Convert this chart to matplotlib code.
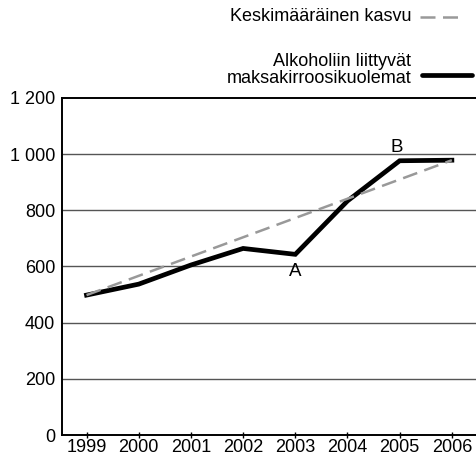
import matplotlib
matplotlib.use("Agg")
import matplotlib.pyplot as plt
from matplotlib.lines import Line2D

plt.rcParams['font.family'] = ['Liberation Sans', 'DejaVu Sans']

years = [1999, 2000, 2001, 2002, 2003, 2004, 2005, 2006]
deaths = [498, 537, 605, 664, 643, 833, 976, 978]
avg_years = [1999, 2006]
avg_values = [498, 978]
yticks = [0, 200, 400, 600, 800, 1000, 1200]
ytick_labels = ["0", "200", "400", "600", "800", "1 000", "1 200"]
label_avg = "Keskimääräinen kasvu"
label_deaths = "Alkoholiin liittyvät\nmaksakirroosikuolemat"

fig = plt.figure(figsize=(4.77, 4.57), dpi=100)
ax = fig.add_axes([0.130, 0.048, 0.872, 0.738])

for v in yticks[1:-1]:
    ax.axhline(v, color="#555555", lw=1.0, zorder=1)

ax.plot(avg_years, avg_values, color="#999999", lw=1.8, dashes=(6, 3),
        zorder=3, solid_capstyle='round')
ax.plot(years, deaths, color="black", lw=3.4, zorder=2, solid_joinstyle='miter')

ax.text(2003, 612, "A", ha="center", va="top", fontsize=13.5)
ax.text(2004.95, 993, "B", ha="center", va="bottom", fontsize=13.5)

ax.set_xlim(1998.53, 2006.5)
ax.set_ylim(0, 1200)
ax.set_xticks(years)
ax.set_xticklabels([str(y) for y in years], fontsize=13)
ax.set_yticks(yticks)
ax.set_yticklabels(ytick_labels, fontsize=13)
ax.tick_params(axis='y', length=0, pad=5)
ax.tick_params(axis='x', length=4, direction='inout', pad=1, width=1)
ax.spines['right'].set_visible(False)
for s in ['left', 'bottom', 'top']:
    ax.spines[s].set_linewidth(1.4)
    ax.spines[s].set_color('black')

# legend
fig.text(0.862, 0.963, label_avg, ha="right", va="center", fontsize=13)
fig.add_artist(Line2D([0.880, 0.975], [0.963, 0.963], color="#999999", lw=1.8,
                      dashes=(6, 3), transform=fig.transFigure))
fig.text(0.862, 0.847, label_deaths, ha="right", va="center", fontsize=13,
         multialignment="right", linespacing=1.05)
fig.add_artist(Line2D([0.885, 0.99], [0.836, 0.836], color="black", lw=3.4,
                      transform=fig.transFigure, solid_capstyle='round'))

fig.savefig("out.png", dpi=100)
